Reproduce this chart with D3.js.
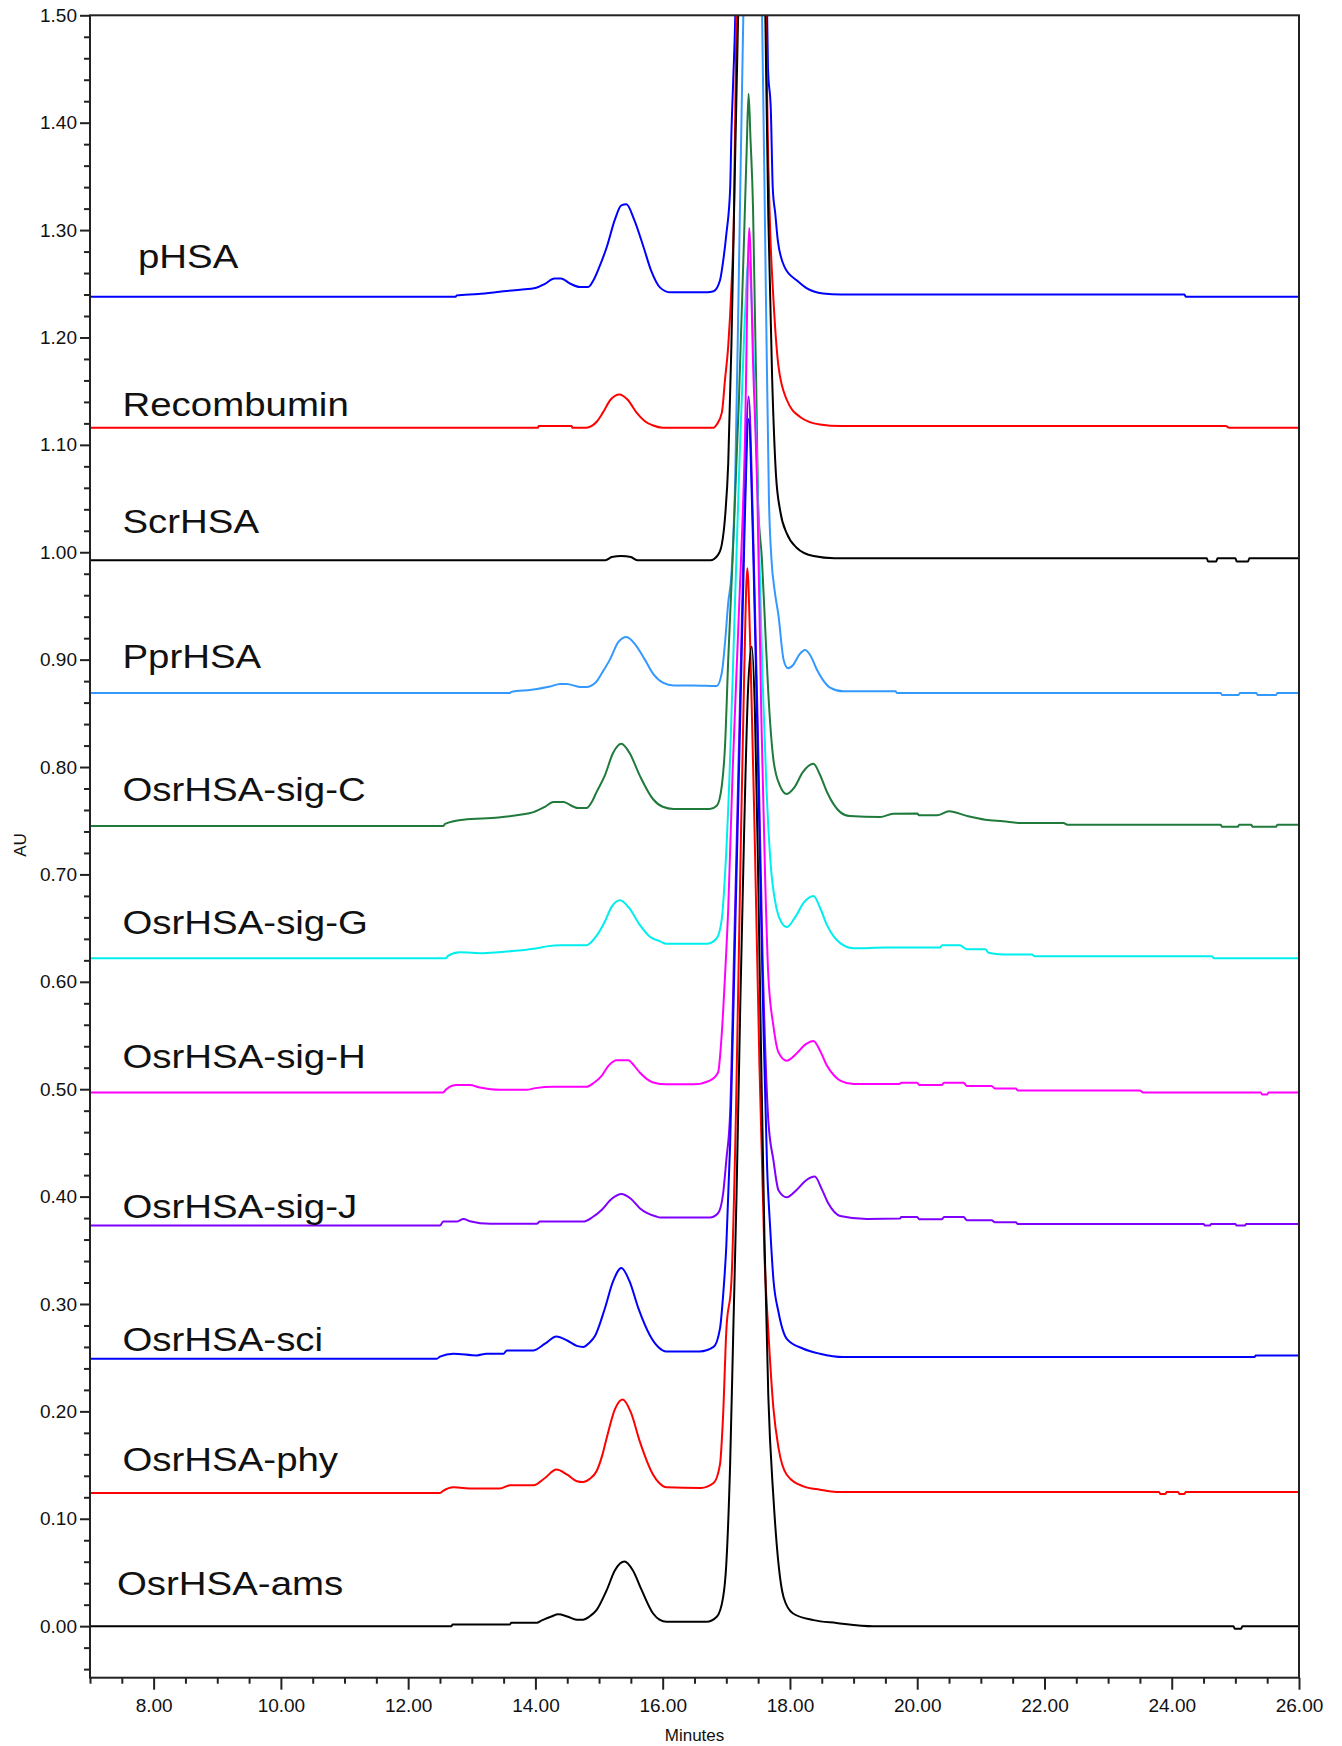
<!DOCTYPE html>
<html>
<head>
<meta charset="utf-8">
<script src="https://cdn.jsdelivr.net/npm/d3@7"></script>
<style>
  html, body { margin: 0; padding: 0; background: #fff; }
  svg { display: block; }
  text { font-family: "Liberation Sans", Arial, Helvetica, sans-serif; fill: #111; }
</style>
</head>
<body>
<svg id="chart" width="1342" height="1746"></svg>
<script>
// ---- Data: SEC chromatograms, stacked with a vertical offset per sample ----
// Each trace: [retention time (min), absorbance above its own baseline (AU)]

const SAMPLE_NAMES = ["pHSA", "Recombumin", "ScrHSA", "PprHSA", "OsrHSA-sig-C", "OsrHSA-sig-G",
                      "OsrHSA-sig-H", "OsrHSA-sig-J", "OsrHSA-sci", "OsrHSA-phy", "OsrHSA-ams"];

const SAMPLE_COLORS = ["#0000ff", "#ff0000", "#000000", "#3399ff", "#1f7a3c", "#00eeee",
                       "#ff00ff", "#8000ff", "#0000ff", "#ff0000", "#000000"];

// baseline offset (AU) of each stacked trace
const BASELINES = [1.238, 1.116, 0.9925, 0.869, 0.745, 0.622, 0.497, 0.373, 0.249, 0.124, 0.0];

const TRACE_PHSA = [[7,0],[12.75,0],[12.76,0.0012],[13.1,0.0025],[13.5,0.005],[13.76,0.0065],[14.0,0.008],
  [14.15,0.012],[14.3,0.017],[14.4,0.017],[14.55,0.012],[14.7,0.009],[14.83,0.009],[14.91,0.015],[15.0,0.027],
  [15.12,0.046],[15.25,0.072],[15.35,0.085],[15.43,0.086],[15.55,0.072],[15.70,0.046],[15.82,0.024],[15.96,0.0084],
  [16.12,0.004],[16.70,0.004],[16.80,0.005],[16.90,0.015],[16.95,0.033],[17.00,0.058],[17.06,0.10],[17.08,0.152],
  [17.11,0.204],[17.14,0.26],[17.20,0.55],[17.30,0.95],[17.40,1.10],[17.50,0.95],[17.58,0.55],[17.64,0.27],
  [17.655,0.213],[17.70,0.173],[17.73,0.101],[17.77,0.077],[17.81,0.052],[17.92,0.027],[18.11,0.015],[18.26,0.008],
  [18.52,0.003],[18.8,0.002],[24.2,0.002],[24.22,0],[26,0]];

const TRACE_RECOMBUMIN = [[7,0],[14.04,0],[14.05,0.0015],[14.57,0.0015],[14.58,0],[14.80,0],[14.88,0.0015],
  [14.97,0.006],[15.06,0.014],[15.18,0.026],[15.32,0.031],[15.45,0.026],[15.59,0.014],[15.72,0.006],[15.85,0.002],
  [16.0,0],[16.80,0],[16.85,0.003],[16.93,0.014],[16.98,0.045],[17.03,0.076],[17.08,0.13],[17.12,0.2],[17.16,0.39],
  [17.25,0.8],[17.40,1.1],[17.52,0.8],[17.62,0.39],[17.66,0.244],[17.69,0.182],[17.74,0.12],[17.82,0.057],
  [17.95,0.026],[18.16,0.01],[18.47,0.003],[18.8,0.0015],[24.85,0.0015],[24.9,0],[26,0]];

const TRACE_SCRHSA = [[7,0],[15.1,0],[15.2,0.003],[15.35,0.004],[15.5,0.003],[15.6,0],[16.75,0],[16.87,0.005],
  [16.93,0.015],[16.98,0.04],[17.03,0.09],[17.08,0.2],[17.13,0.35],[17.19,0.52],[17.30,0.9],[17.42,1.05],
  [17.52,0.9],[17.61,0.52],[17.66,0.32],[17.72,0.17],[17.78,0.08],[17.85,0.045],[17.95,0.025],[18.1,0.012],
  [18.37,0.004],[18.7,0.002],[24.55,0.002],[24.57,-0.001],[24.7,-0.001],[24.72,0.002],[25.0,0.002],[25.02,-0.001],
  [25.2,-0.001],[25.22,0.002],[26,0.002]];

const TRACE_PPRHSA = [[7,0],[13.6,0],[13.62,0.001],[13.94,0.003],[14.23,0.006],[14.39,0.0084],[14.49,0.0084],
  [14.7,0.0056],[14.8,0.0056],[14.95,0.01],[15.05,0.019],[15.17,0.031],[15.30,0.047],[15.43,0.052],[15.57,0.045],
  [15.72,0.031],[15.86,0.017],[16.01,0.0093],[16.17,0.007],[16.48,0.007],[16.85,0.0065],[16.93,0.019],[16.98,0.047],
  [17.03,0.084],[17.08,0.11],[17.14,0.2],[17.2,0.40],[17.27,0.64],[17.40,0.85],[17.50,0.75],[17.56,0.64],
  [17.62,0.38],[17.67,0.18],[17.71,0.124],[17.76,0.095],[17.82,0.072],[17.90,0.031],[17.97,0.023],[18.05,0.026],
  [18.15,0.036],[18.24,0.04],[18.33,0.034],[18.42,0.022],[18.52,0.012],[18.63,0.005],[18.84,0.0015],[19.66,0.0015],
  [19.68,0],[24.77,0],[24.79,-0.002],[25.05,-0.002],[25.07,0],[25.33,0],[25.35,-0.002],[25.64,-0.002],[25.66,0],[26,0]];

const TRACE_SIG_C = [[7,0],[12.55,0],[12.58,0.002],[12.87,0.006],[13.42,0.008],[13.76,0.0105],[13.97,0.013],
  [14.15,0.018],[14.28,0.0224],[14.44,0.0224],[14.6,0.018],[14.67,0.0168],[14.8,0.0168],[14.9,0.024],[14.96,0.0316],
  [15.09,0.047],[15.22,0.068],[15.35,0.0766],[15.48,0.068],[15.64,0.047],[15.85,0.025],[16.0,0.018],[16.17,0.016],
  [16.74,0.016],[16.85,0.019],[16.93,0.038],[16.98,0.075],[17.03,0.155],[17.10,0.25],[17.2,0.40],[17.28,0.55],
  [17.32,0.63],[17.35,0.682],[17.38,0.64],[17.42,0.575],[17.45,0.475],[17.47,0.41],[17.50,0.30],[17.56,0.248],
  [17.61,0.186],[17.66,0.124],[17.74,0.062],[17.84,0.038],[17.95,0.03],[18.07,0.036],[18.2,0.05],[18.37,0.058],
  [18.47,0.048],[18.58,0.032],[18.69,0.02],[18.79,0.013],[18.94,0.0093],[19.42,0.0084],[19.62,0.0115],[20.0,0.0118],
  [20.03,0.010],[20.31,0.010],[20.5,0.0138],[20.78,0.0095],[21.07,0.006],[21.35,0.0045],[21.63,0.0028],[22.3,0.0028],
  [22.36,0.0012],[24.77,0.0012],[24.79,-0.0006],[25.04,-0.0006],[25.06,0.0012],[25.25,0.0012],[25.27,-0.0006],
  [25.64,-0.0006],[25.66,0.0012],[26,0.0012]];

const TRACE_SIG_G = [[7,0],[12.6,0],[12.62,0.002],[12.81,0.0056],[13.18,0.0047],[13.55,0.0062],[13.97,0.0087],
  [14.18,0.011],[14.39,0.012],[14.8,0.012],[14.95,0.02],[15.09,0.034],[15.2,0.048],[15.33,0.054],[15.47,0.047],
  [15.64,0.031],[15.8,0.02],[15.96,0.0157],[16.06,0.0134],[16.69,0.0134],[16.85,0.0186],[16.93,0.037],[16.98,0.078],
  [17.05,0.17],[17.12,0.30],[17.2,0.45],[17.28,0.58],[17.35,0.65],[17.42,0.58],[17.5,0.42],[17.57,0.26],[17.63,0.16],
  [17.69,0.093],[17.79,0.046],[17.87,0.033],[17.95,0.029],[18.08,0.038],[18.22,0.052],[18.37,0.058],[18.48,0.046],
  [18.58,0.031],[18.69,0.02],[18.79,0.014],[19.0,0.0093],[19.52,0.0099],[20.36,0.0099],[20.39,0.012],[20.67,0.012],
  [20.78,0.0084],[21.07,0.0084],[21.12,0.005],[21.35,0.0034],[21.8,0.0034],[21.85,0.0017],[24.63,0.0017],[24.66,0],[26,0]];

const TRACE_SIG_H = [[7,0],[12.55,0],[12.6,0.003],[12.76,0.0068],[12.97,0.0068],[13.13,0.0046],[13.44,0.0025],
  [13.86,0.0025],[14.0,0.004],[14.28,0.0052],[14.8,0.0052],[14.92,0.009],[15.04,0.0155],[15.15,0.025],[15.28,0.030],
  [15.46,0.030],[15.55,0.025],[15.64,0.0186],[15.85,0.0093],[16.06,0.0075],[16.48,0.0075],[16.74,0.011],[16.87,0.0186],
  [16.93,0.056],[16.98,0.109],[17.03,0.171],[17.10,0.3],[17.2,0.45],[17.29,0.6],[17.36,0.805],[17.42,0.68],
  [17.49,0.55],[17.55,0.35],[17.61,0.2],[17.66,0.109],[17.74,0.062],[17.82,0.0373],[17.95,0.0295],[18.1,0.036],
  [18.25,0.045],[18.37,0.048],[18.48,0.038],[18.58,0.025],[18.69,0.016],[18.79,0.011],[19.0,0.0078],[19.72,0.0078],
  [19.75,0.009],[20.0,0.009],[20.03,0.007],[20.39,0.007],[20.42,0.009],[20.73,0.009],[20.78,0.006],[21.17,0.006],
  [21.22,0.0037],[21.55,0.0037],[21.58,0.0018],[23.5,0.0018],[23.55,0],[25.4,0],[25.42,-0.002],[25.5,-0.002],
  [25.52,0],[26,0]];

const TRACE_SIG_J = [[7,0],[12.5,0],[12.55,0.0037],[12.76,0.0037],[12.87,0.0062],[12.97,0.004],[13.29,0.0016],
  [14.02,0.0016],[14.07,0.0037],[14.75,0.0037],[14.9,0.008],[15.04,0.0146],[15.2,0.025],[15.35,0.0295],[15.5,0.025],
  [15.64,0.0162],[15.9,0.0084],[15.96,0.0075],[16.74,0.0075],[16.87,0.0115],[16.95,0.030],[17.0,0.061],[17.06,0.105],
  [17.12,0.25],[17.2,0.45],[17.28,0.65],[17.35,0.772],[17.42,0.65],[17.5,0.45],[17.57,0.25],[17.66,0.098],
  [17.74,0.061],[17.82,0.033],[17.95,0.0264],[18.1,0.033],[18.25,0.042],[18.39,0.0456],[18.5,0.034],[18.6,0.021],
  [18.79,0.009],[19.21,0.0062],[19.73,0.0065],[19.75,0.008],[20.0,0.008],[20.03,0.006],[20.39,0.006],[20.42,0.008],
  [20.73,0.008],[20.78,0.005],[21.17,0.005],[21.22,0.003],[21.55,0.003],[21.58,0.0015],[24.5,0.0015],[24.52,0],
  [24.6,0],[24.62,0.0015],[25.0,0.0015],[25.02,0],[25.15,0],[25.17,0.0015],[26,0.0015]];

const TRACE_SCI = [[7,0],[12.45,0],[12.5,0.002],[12.71,0.0047],[13.08,0.0031],[13.23,0.0047],[13.5,0.0047],
  [13.55,0.0078],[13.97,0.0078],[14.15,0.014],[14.33,0.0208],[14.5,0.017],[14.65,0.012],[14.75,0.011],[14.85,0.015],
  [14.94,0.0217],[15.09,0.0466],[15.22,0.072],[15.35,0.0845],[15.48,0.072],[15.62,0.0466],[15.80,0.0217],[15.93,0.011],
  [16.06,0.0068],[16.58,0.0068],[16.80,0.011],[16.90,0.028],[16.95,0.059],[17.0,0.105],[17.06,0.2],[17.14,0.4],
  [17.22,0.6],[17.29,0.78],[17.35,0.875],[17.42,0.76],[17.5,0.55],[17.58,0.32],[17.64,0.18],[17.69,0.121],
  [17.74,0.074],[17.82,0.0435],[17.95,0.0186],[18.21,0.0093],[18.47,0.0047],[18.84,0.0016],[25.3,0.0016],
  [25.32,0.003],[26,0.003]];

const TRACE_PHY = [[7,0],[12.5,0],[12.55,0.002],[12.71,0.0053],[13.02,0.0041],[13.44,0.0041],[13.6,0.0072],
  [13.97,0.0072],[14.15,0.014],[14.33,0.0218],[14.5,0.017],[14.65,0.011],[14.75,0.0102],[14.85,0.013],[14.96,0.0202],
  [15.05,0.035],[15.12,0.0512],[15.25,0.078],[15.37,0.087],[15.5,0.075],[15.64,0.048],[15.75,0.03],[15.85,0.017],
  [15.95,0.009],[16.06,0.0053],[16.6,0.0047],[16.8,0.0093],[16.9,0.0264],[16.95,0.073],[17.0,0.151],[17.08,0.197],
  [17.15,0.35],[17.22,0.58],[17.28,0.76],[17.33,0.861],[17.38,0.78],[17.45,0.6],[17.52,0.4],[17.6,0.22],
  [17.66,0.151],[17.74,0.079],[17.82,0.042],[17.95,0.017],[18.21,0.0062],[18.47,0.0031],[18.73,0.001],[23.8,0.001],
  [23.82,-0.001],[23.9,-0.001],[23.92,0.001],[24.1,0.001],[24.12,-0.001],[24.2,-0.001],[24.22,0.001],[26,0.001]];

const TRACE_AMS = [[7,0],[12.68,0],[12.7,0.0016],[13.6,0.0016],[13.62,0.0031],[14.02,0.0031],[14.1,0.0053],
  [14.25,0.009],[14.36,0.011],[14.5,0.009],[14.65,0.006],[14.75,0.006],[14.85,0.009],[14.96,0.0149],[15.12,0.0335],
  [15.25,0.052],[15.40,0.0601],[15.53,0.052],[15.67,0.0335],[15.85,0.0118],[15.95,0.006],[16.06,0.004],[16.69,0.004],
  [16.85,0.0087],[16.95,0.027],[17.0,0.058],[17.06,0.151],[17.11,0.276],[17.16,0.40],[17.22,0.58],[17.28,0.74],
  [17.34,0.87],[17.40,0.912],[17.45,0.85],[17.50,0.70],[17.55,0.52],[17.60,0.36],[17.66,0.214],[17.74,0.12],
  [17.82,0.058],[17.90,0.027],[18.05,0.0118],[18.37,0.0056],[18.73,0.003],[19.31,0],[24.97,0],[24.99,-0.0025],
  [25.09,-0.0025],[25.11,0],[26,0]];

const TRACES = [TRACE_PHSA, TRACE_RECOMBUMIN, TRACE_SCRHSA, TRACE_PPRHSA, TRACE_SIG_C, TRACE_SIG_G,
                TRACE_SIG_H, TRACE_SIG_J, TRACE_SCI, TRACE_PHY, TRACE_AMS];

// axis ticks
const X_MAJOR_TICKS = [8, 10, 12, 14, 16, 18, 20, 22, 24, 26];
const Y_MAJOR_TICKS = [0.0, 0.1, 0.2, 0.3, 0.4, 0.5, 0.6, 0.7, 0.8, 0.9, 1.0, 1.1, 1.2, 1.3, 1.4, 1.5];
const X_AXIS_TITLE = "Minutes";
const Y_AXIS_TITLE = "AU";

// ---- Layout ----
const plot = { left: 90, right: 1299, top: 15.3, bottom: 1677.7 };
// sample-name placement: left edge (px) and rise of the text baseline above the trace baseline (px)
const nameLayout = [
  { x: 138, rise: 29 }, { x: 122.5, rise: 11.5 }, { x: 122.5, rise: 27 }, { x: 122.5, rise: 25 },
  { x: 122.5, rise: 25 }, { x: 122.5, rise: 24.5 }, { x: 122.5, rise: 24 }, { x: 122.5, rise: 8 },
  { x: 122.5, rise: 8 }, { x: 122.5, rise: 22 }, { x: 117, rise: 31 }
];

const svg = d3.select("#chart");
const x = d3.scaleLinear().domain([7, 26]).range([plot.left, plot.right]);
const y = d3.scaleLinear().domain([-0.048, 1.5]).range([plot.bottom, plot.top]);
const fmt = d3.format(".2f");
const axisColor = "#222";

svg.append("defs").append("clipPath").attr("id", "plot-clip")
  .append("rect")
  .attr("x", plot.left).attr("y", plot.top)
  .attr("width", plot.right - plot.left).attr("height", plot.bottom - plot.top);

// traces
const line = d3.line().curve(d3.curveMonotoneX);
const traces = svg.append("g").attr("clip-path", "url(#plot-clip)");
TRACES.forEach((trace, i) => {
  traces.append("path")
    .attr("d", line.x(d => x(d[0])).y(d => y(BASELINES[i] + d[1]))(trace))
    .attr("fill", "none")
    .attr("stroke", SAMPLE_COLORS[i])
    .attr("stroke-width", 2)
    .attr("stroke-linejoin", "round");
});

// frame
svg.append("rect")
  .attr("x", plot.left).attr("y", plot.top)
  .attr("width", plot.right - plot.left).attr("height", plot.bottom - plot.top)
  .attr("fill", "none").attr("stroke", axisColor).attr("stroke-width", 2);

// y axis: majors with labels, minors every 0.02
const yMinor = d3.range(-0.04, 1.5001, 0.02).filter(v => Math.abs(Math.round(v * 10) - v * 10) > 1e-6);
const yAxisG = svg.append("g").attr("transform", `translate(${plot.left},0)`);
yAxisG.call(d3.axisLeft(y).tickValues(Y_MAJOR_TICKS).tickSize(10).tickPadding(3).tickFormat(fmt));
yAxisG.append("g").call(d3.axisLeft(y).tickValues(yMinor).tickSize(6).tickFormat(""));
yAxisG.selectAll(".domain").remove();

// x axis: majors with labels, minors every 0.5 min
const xMinor = d3.range(7, 26.001, 0.5).filter(v => !X_MAJOR_TICKS.includes(v));
const xAxisG = svg.append("g").attr("transform", `translate(0,${plot.bottom})`);
xAxisG.call(d3.axisBottom(x).tickValues(X_MAJOR_TICKS).tickSize(12).tickPadding(9).tickFormat(fmt));
xAxisG.append("g").call(d3.axisBottom(x).tickValues(xMinor).tickSize(6).tickFormat(""));
xAxisG.selectAll(".domain").remove();

svg.selectAll(".tick line").attr("stroke", axisColor).attr("stroke-width", 2);
svg.selectAll(".tick text")
  .attr("fill", "#111")
  .style("font-family", '"Liberation Sans", Arial, sans-serif')
  .style("font-size", "19px");

// axis titles
svg.append("text")
  .attr("x", (plot.left + plot.right) / 2).attr("y", 1741)
  .attr("text-anchor", "middle")
  .style("font-size", "17px")
  .text(X_AXIS_TITLE);

svg.append("text")
  .attr("transform", `translate(25.5,${845}) rotate(-90)`)
  .attr("text-anchor", "middle")
  .style("font-size", "17px")
  .text(Y_AXIS_TITLE);

// sample names
SAMPLE_NAMES.forEach((name, i) => {
  const ly = y(BASELINES[i]) - nameLayout[i].rise;
  svg.append("text")
    .attr("transform", `translate(${nameLayout[i].x},${ly}) scale(1.13,1)`)
    .style("font-size", "34px")
    .text(name);
});
</script>
</body>
</html>
